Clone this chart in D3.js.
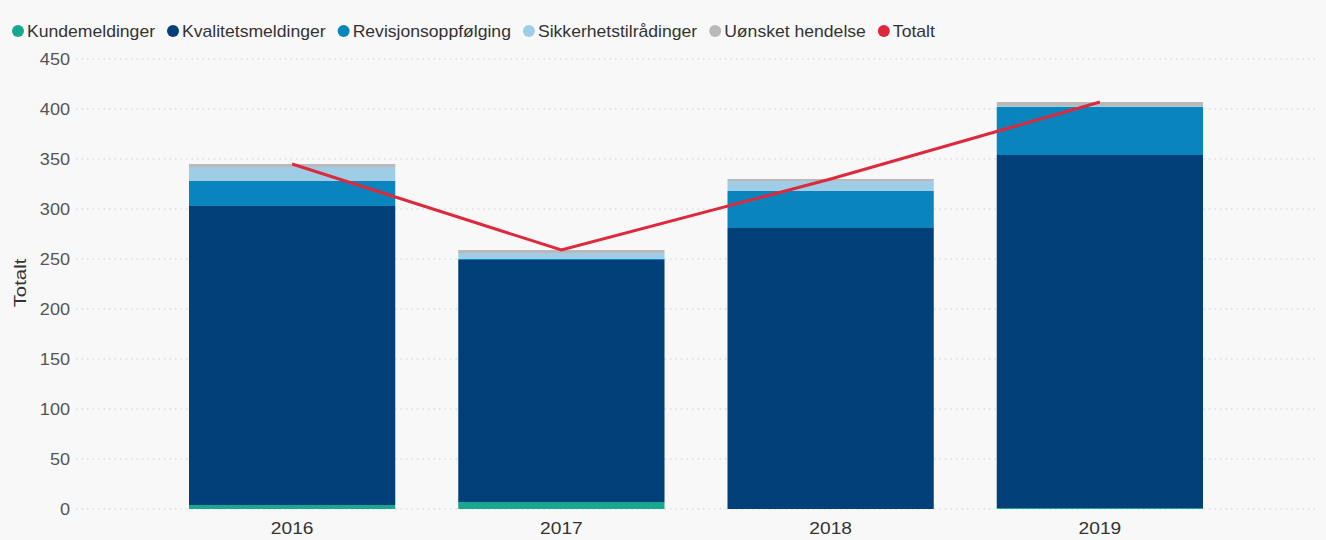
<!DOCTYPE html>
<html>
<head>
<meta charset="utf-8">
<script src="https://cdn.jsdelivr.net/npm/d3@7"></script>
<style>
  body { margin: 0; background: #f8f8f8; }
  svg { display: block; font-family: "Liberation Sans", Arial, sans-serif; }
</style>
</head>
<body>
<div id="chart"></div>
<script>
// data
const years = ['2016', '2017', '2018', '2019'];
const kundemeldinger = [4, 7, 0, 1];
const kvalitetsmeldinger = [299, 242, 281, 353];
const revisjonsoppfolging = [25, 1, 37, 48];
const sikkerhetstiradinger = [14, 6, 10, 1];
const uonsketHendelse = [3, 3, 2, 4];
const totalt = [345, 259, 330, 407];
const yTicks = [0, 50, 100, 150, 200, 250, 300, 350, 400, 450];

const seriesNames = ['Kundemeldinger', 'Kvalitetsmeldinger', 'Revisjonsoppfølging', 'Sikkerhetstilrådinger', 'Uønsket hendelse'];
const seriesValues = [kundemeldinger, kvalitetsmeldinger, revisjonsoppfolging, sikkerhetstiradinger, uonsketHendelse];
const colors = ['#17a88f', '#003f78', '#0a84bd', '#9fcde6', '#b9b9b9'];
const lineColor = '#dc2a3c';

const width = 1326, height = 540;
const stretch = 1.13; // text in the picture is a bit wide
const legendStretch = 1.1;

const svg = d3.select('#chart').append('svg')
    .attr('width', width)
    .attr('height', height);

svg.append('rect').attr('width', width).attr('height', height).attr('fill', '#f8f8f8');

const x = d3.scaleBand()
    .domain(years)
    .range([189, 1203])
    .paddingInner(0.234)
    .paddingOuter(0);

const y = d3.scaleLinear()
    .domain([0, 450])
    .range([509, 59]);

// gridlines
svg.append('g').selectAll('line')
    .data(yTicks)
    .enter()
    .append('line')
    .attr('x1', 76)
    .attr('x2', 1318)
    .attr('y1', d => y(d))
    .attr('y2', d => y(d))
    .attr('stroke', '#cfcfcf')
    .attr('stroke-width', 1)
    .attr('stroke-dasharray', '1.5,4');

// y axis labels
svg.append('g').selectAll('text')
    .data(yTicks)
    .enter()
    .append('text')
    .attr('transform', d => `translate(70,${y(d) + 6}) scale(${stretch},1)`)
    .attr('text-anchor', 'end')
    .attr('font-size', 16)
    .attr('fill', '#555')
    .text(d => d);

svg.append('text')
    .attr('transform', `translate(26,283) rotate(-90) scale(1.2,1)`)
    .attr('text-anchor', 'middle')
    .attr('font-size', 17)
    .attr('fill', '#333')
    .text('Totalt');

// stacked bars
const rows = years.map((yr, i) => {
    const r = { year: yr };
    seriesNames.forEach((s, j) => { r[s] = seriesValues[j][i]; });
    return r;
});
const stacked = d3.stack().keys(seriesNames)(rows);

svg.append('g').selectAll('g')
    .data(stacked)
    .enter()
    .append('g')
    .attr('fill', (d, i) => colors[i])
    .selectAll('rect')
    .data(d => d)
    .enter()
    .append('rect')
    .attr('x', d => x(d.data.year))
    .attr('width', x.bandwidth())
    .attr('y', d => y(d[1]))
    .attr('height', d => y(d[0]) - y(d[1]));

// total line
const line = d3.line()
    .x((d, i) => x(years[i]) + x.bandwidth() / 2)
    .y(d => y(d));

svg.append('path')
    .datum(totalt)
    .attr('d', line)
    .attr('fill', 'none')
    .attr('stroke', lineColor)
    .attr('stroke-width', 3);

// x axis labels
svg.append('g').selectAll('text')
    .data(years)
    .enter()
    .append('text')
    .attr('transform', d => `translate(${x(d) + x.bandwidth() / 2},534) scale(${stretch},1)`)
    .attr('text-anchor', 'middle')
    .attr('font-size', 17)
    .attr('fill', '#333')
    .text(d => d);

// legend
const legendItems = seriesNames.concat(['Totalt']);
const legendColors = colors.concat([lineColor]);
const legend = svg.append('g').attr('transform', 'translate(0,31)');
let lx = 12;
legendItems.forEach((name, i) => {
    const g = legend.append('g').attr('transform', `translate(${lx},0)`);
    g.append('circle').attr('cx', 6).attr('cy', 0).attr('r', 6).attr('fill', legendColors[i]);
    const t = g.append('text')
        .attr('transform', `translate(15,5.5) scale(${legendStretch},1)`)
        .attr('font-size', 16)
        .attr('fill', '#333')
        .text(name);
    lx += 15 + t.node().getComputedTextLength() * legendStretch + 12;
});
</script>
</body>
</html>
